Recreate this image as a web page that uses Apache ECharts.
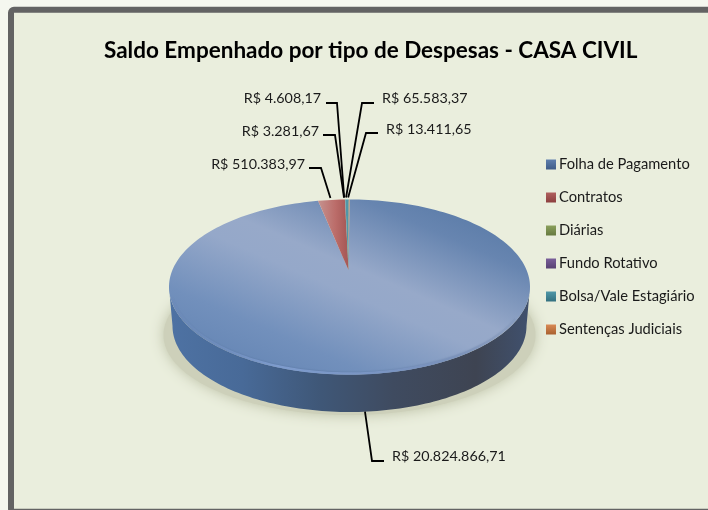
<!DOCTYPE html>
<html>
<head>
<meta charset="utf-8">
<style>html,body{margin:0;padding:0;background:#f5f7ef}#chart{width:708px;height:510px}</style>
<script src="https://cdn.jsdelivr.net/npm/echarts@6/dist/echarts.min.js"></script>
</head>
<body>
<div id="chart"></div>
<script>
// categorias e valores
var categories = ['Folha de Pagamento', 'Contratos', 'Diárias', 'Fundo Rotativo', 'Bolsa/Vale Estagiário', 'Sentenças Judiciais'];
var values = [20824866.71, 510383.97, 3281.67, 4608.17, 65583.37, 13411.65];
var colors = ['#5f7fae', '#b0605e', '#8ba05c', '#7a5f9a', '#4f97a8', '#d98a55'];
var iconDark = ['#3f5c88', '#8c3f3e', '#66793f', '#574172', '#33707f', '#a9602f'];
var title = 'Saldo Empenhado por tipo de Despesas - CASA CIVIL';

// geometria do "3D"
var top_ = { cx: 349.5, cy: 287, rx: 180.5, ry: 87.5 };
var bottom_ = { cx: 349.5, cy: 326, rx: 177, ry: 86 };
var apex = [348.5, 270];
var font = '14.3px Lato, sans-serif';

// posicao dos rotulos: [x do texto, y do texto, x do cotovelo, y do cotovelo, x fim, alinhamento]
var labelPos = [
  [392, 456, 372, 461, 384, 'left'],
  [305, 164, 321, 168, 309, 'right'],
  [319, 131, 335, 135, 323, 'right'],
  [321, 98, 337, 103, 326, 'right'],
  [382, 98, 362, 103, 374, 'left'],
  [386, 129, 366, 133, 378, 'left']
];

var total = values.reduce(function (a, b) { return a + b; }, 0);
var starts = [];
values.reduce(function (acc, v, i) { starts[i] = acc; return acc + v; }, 0);

function brl(v) {
  var p = v.toFixed(2).split('.');
  return 'R$ ' + p[0].replace(/\B(?=(\d{3})+$)/g, '.') + ',' + p[1];
}
function pt(e, deg) {
  var a = deg * Math.PI / 180;
  return [e.cx + e.rx * Math.sin(a), e.cy - e.ry * Math.cos(a)];
}
function arc(e, a0, a1) {
  var pts = [], n = Math.max(2, Math.ceil(Math.abs(a1 - a0) / 1.5));
  for (var k = 0; k <= n; k++) pts.push(pt(e, a0 + (a1 - a0) * k / n));
  return pts;
}
function lin(x0, y0, x1, y1, stops) {
  return new echarts.graphic.LinearGradient(x0, y0, x1, y1, stops.map(function (s) {
    return { offset: s[0], color: s[1] };
  }), true);
}
var topFills = [
  lin(402, 160, 298, 400, [[0, '#5577a4'], [0.2, '#6785b0'], [0.45, '#97a9c9'], [0.55, '#95a8c9'], [0.8, '#7290bc'], [1, '#6485b4']]),
  lin(320, 200, 346, 200, [[0, '#c48e8b'], [0.6, '#bb6c69'], [1, '#a85a58']])
];
function renderSlice(params, api) {
  var i = params.seriesIndex;
  var v = api.value(0);
  var a0 = starts[i] / total * 360, a1 = (starts[i] + v) / total * 360, mid = (a0 + a1) / 2;
  var kids = [];
  if (i === 0) {
    // sombra projetada
    kids.push({
      type: 'polygon',
      shape: { points: arc({ cx: 349.5, cy: 335, rx: 186, ry: 80 }, 0, 360) },
      style: { fill: '#cdd0ba', shadowColor: '#bcc0a6', shadowBlur: 14 }
    });
  }
  // parede lateral, so a parte da frente
  var s0 = Math.max(a0, 90), s1 = Math.min(a1, 270);
  if (s1 > s0) {
    kids.push({
      type: 'polygon',
      shape: { points: arc(top_, s0, s1).concat(arc(bottom_, s1, s0)) },
      style: {
        fill: lin(170, 0, 530, 0, [[0, '#4e72a3'], [0.2, '#486a98'], [0.42, '#3f5777'], [0.62, '#3f4b60'], [0.85, '#3e4452'], [1, '#40516e']])
      }
    });
  }
  // tampo
  kids.push({
    type: 'polygon',
    shape: { points: [apex].concat(arc(top_, a0, a1)) },
    style: { fill: topFills[i] || colors[i] }
  });
  if (i === 0) {
    // brilho da borda da frente
    kids.push({
      type: 'polyline',
      shape: { points: arc({ cx: 349.5, cy: 286, rx: 179, ry: 87.5 }, 112, 262) },
      style: {
        fill: null, lineWidth: 2.4,
        stroke: lin(530, 0, 170, 0, [[0, 'rgba(120,140,175,0)'], [0.3, 'rgba(125,150,195,.8)'], [0.7, 'rgba(130,160,210,.9)'], [1, 'rgba(120,150,200,.2)']]),
        shadowColor: 'rgba(60,85,125,.5)', shadowBlur: 2
      }
    });
  }
  // linha de chamada e rotulo
  var lp = labelPos[i];
  var anchor = i === 0 ? pt(bottom_, mid) : pt({ cx: top_.cx - 1, cy: top_.cy, rx: top_.rx, ry: top_.ry + 2 }, mid);
  kids.push({
    type: 'polyline',
    shape: { points: [anchor, [lp[2], lp[3]], [lp[4], lp[3]]] },
    style: { fill: null, stroke: '#000', lineWidth: 1.8 }
  });
  kids.push({
    type: 'text',
    style: { text: brl(v), x: lp[0], y: lp[1], align: lp[5], verticalAlign: 'middle', font: font, fill: '#1a1a1a' }
  });
  return { type: 'group', children: kids };
}

var chart = echarts.init(document.getElementById('chart'), null, { renderer: 'canvas' });
chart.setOption({
  animation: false,
  backgroundColor: '#f5f7ef',
  title: {
    text: title, left: 104, top: 39, padding: 0,
    textStyle: { fontFamily: 'Lato, sans-serif', fontSize: 22.5, fontWeight: 'bold', color: '#000' }
  },
  legend: {
    orient: 'vertical', left: 546, top: 157, itemWidth: 10, itemHeight: 10, itemGap: 18, icon: 'rect',
    selectedMode: false, padding: 0,
    textStyle: { fontFamily: 'Lato, sans-serif', fontSize: 14.7, color: '#1a1a1a', padding: [0, 0, 0, -2] },
    data: categories.map(function (c, i) {
      return {
        name: c,
        itemStyle: {
          color: new echarts.graphic.LinearGradient(0, 0, 0, 1, [
            { offset: 0, color: colors[i] },
            { offset: 1, color: iconDark[i] }
          ])
        }
      };
    })
  },
  graphic: [{
    type: 'rect', z: -10, silent: true,
    shape: { x: 11, y: 9.7, width: 720, height: 502, r: 3 },
    style: { fill: '#eaeedd', stroke: '#636363', lineWidth: 6 }
  }],
  series: categories.map(function (c, i) {
    return {
      type: 'custom', name: c, coordinateSystem: 'none', clip: false,
      itemStyle: { color: colors[i] },
      renderItem: renderSlice,
      data: [[values[i]]]
    };
  })
});
</script>
</body>
</html>
